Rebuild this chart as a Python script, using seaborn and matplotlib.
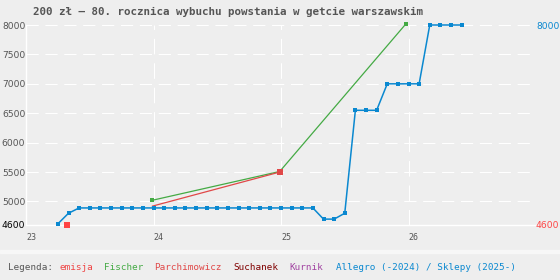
import numpy as np
import pandas as pd
import matplotlib
matplotlib.use('Agg')
import matplotlib.pyplot as plt
import seaborn as sns

# Allegro (-2024) / Sklepy (2025-) monthly prices
allegro_dates = ['2023-04', '2023-05', '2023-06', '2023-07', '2023-08', '2023-09', '2023-10',
                 '2023-11', '2023-12', '2024-01', '2024-02', '2024-03', '2024-04', '2024-05',
                 '2024-06', '2024-07', '2024-08', '2024-09', '2024-10', '2024-11', '2024-12',
                 '2025-01', '2025-02', '2025-03', '2025-04', '2025-05', '2025-06', '2025-07',
                 '2025-08', '2025-09', '2025-10', '2025-11', '2025-12', '2026-01', '2026-02',
                 '2026-03', '2026-04', '2026-05', '2026-06']
allegro_prices = [4620, 4800, 4890, 4890, 4890, 4890, 4890,
                  4890, 4890, 4890, 4890, 4890, 4890, 4890,
                  4890, 4890, 4890, 4890, 4890, 4890, 4890,
                  4890, 4890, 4890, 4890, 4700, 4700, 4800,
                  6550, 6550, 6550, 7000, 7000, 7000, 7000,
                  8000, 8000, 8000, 8000]

fischer_x = [23.99, 24.99, 25.98]
fischer_y = [5020, 5510, 8020]

parch_x = [23.99, 24.99]
parch_y = [4920, 5500]

emisja_x = [23.32]
emisja_y = [4600]

y_ticks = [4600, 5000, 5500, 6000, 6500, 7000, 7500, 8000]
x_ticks = [23, 24, 25, 26]

title = '200 zł – 80. rocznica wybuchu powstania w getcie warszawskim'
legend_items = [('Legenda:', '#555555', 8), ('emisja', '#ee4444', 60),
                ('Fischer', '#44aa44', 104), ('Parchimowicz', '#e04848', 154),
                ('Suchanek', '#800000', 233), ('Kurnik', '#a040a0', 289),
                ('Allegro (-2024) / Sklepy (2025-)', '#0a88d0', 336)]

BG = '#eeeeee'
BLUE = '#0a88d0'
GREEN = '#44aa44'
RED = '#e04848'

def to_year(s):
    y, m = s.split('-')
    return int(y) - 2000 + (int(m) - 1) / 12

allegro = pd.DataFrame({'x': [to_year(d) for d in allegro_dates], 'y': allegro_prices})

sns.set_style('white')
plt.rcParams['font.family'] = ['DejaVu Sans Mono', 'DejaVu Sans']

fig = plt.figure(figsize=(5.6, 2.8), dpi=100, facecolor=BG)
ax = fig.add_axes([26 / 560, 1 - 225 / 280, 510 / 560, 200 / 280])
ax.set_facecolor(BG)

# light strip above legend
fig.patches.append(plt.Rectangle((0, 1 - 253 / 280), 1, 3 / 280, transform=fig.transFigure,
                                 color='#f7f7f7', zorder=0))

sns.lineplot(x=fischer_x, y=fischer_y, ax=ax, color=GREEN, linewidth=0.9, marker='s',
             markersize=2.6, markeredgewidth=0, clip_on=False, zorder=3)
sns.lineplot(x=parch_x, y=parch_y, ax=ax, color=RED, linewidth=0.9, clip_on=False, zorder=3)
sns.scatterplot(x=parch_x[-1:], y=parch_y[-1:], ax=ax, color=RED, marker='s', s=14,
                linewidth=0, clip_on=False, zorder=4)
sns.lineplot(data=allegro, x='x', y='y', ax=ax, color=BLUE, linewidth=1.1, marker='s',
             markersize=2.6, markeredgewidth=0, clip_on=False, zorder=5)
sns.scatterplot(x=emisja_x, y=emisja_y, ax=ax, color='#ff4444', marker='s', s=20,
                linewidth=0, clip_on=False, zorder=6)

ax.set_xlim(23, 27)
ax.set_ylim(4600, 8000)
ax.set_xticks(x_ticks)
ax.set_yticks(y_ticks)
ax.set_xticklabels([str(t) for t in x_ticks], fontsize=6, color='#555555', ha='left')
ax.set_yticklabels([str(t) for t in y_ticks], fontsize=6.6, color='#555555', family='DejaVu Sans')
ax.get_yticklabels()[0].set_color('#000000')
ax.tick_params(axis='both', length=0)
ax.tick_params(axis='y', pad=0.5)
ax.tick_params(axis='x', pad=6)
ax.set_xlabel('')
ax.set_ylabel('')

ax.grid(axis='y', color='white', linestyle=(0, (11, 6)), linewidth=0.8)
ax.grid(axis='x', color='white', linestyle=(0, (14, 8)), linewidth=0.8)
ax.set_axisbelow(True)
for side in ['top', 'right']:
    ax.spines[side].set_visible(False)
for side in ['left', 'bottom']:
    ax.spines[side].set_color('white')
    ax.spines[side].set_linewidth(1.0)

ax2 = ax.twinx()
ax2.set_ylim(4600, 8000)
ax2.set_yticks([4600, 8000])
ax2.set_yticklabels(['4600', '8000'], fontsize=6.6, family='DejaVu Sans')
ax2.get_yticklabels()[0].set_color('#ff4444')
ax2.get_yticklabels()[1].set_color(BLUE)
ax2.tick_params(axis='y', length=0, pad=0)
for side in ax2.spines:
    ax2.spines[side].set_visible(False)
ax2.grid(False)

fig.text(228 / 560, 1 - 12 / 280, title, ha='center', va='center', fontsize=7.8,
         fontweight='bold', color='#555555')

for text, col, px in legend_items:
    fig.text(px / 560, 1 - 267 / 280, text, ha='left', va='center', fontsize=6.7, color=col)

fig.savefig('out.png', dpi=100, facecolor=BG)
